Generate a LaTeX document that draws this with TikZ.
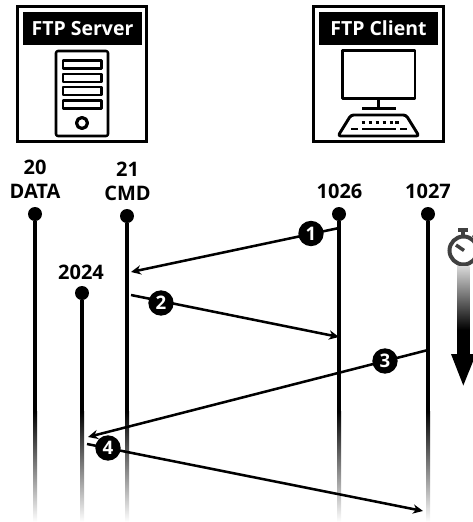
\documentclass[tikz,border=0pt]{standalone}
\usepackage{fontspec}
\setmainfont{Open Sans}[BoldFont={Open Sans Bold}]
\usetikzlibrary{arrows.meta,calc}
\tikzset{
  lbl/.style={font=\fontsize{15}{17}\selectfont\bfseries,inner sep=0pt,text=black},
  band/.style={fill=black,text=white,font=\fontsize{14.6}{17}\selectfont\bfseries,minimum width=89pt,minimum height=24.5pt,inner sep=0pt},
  panel/.style={draw=black,line width=2.1pt,fill=white,minimum width=97pt,minimum height=101.5pt,inner sep=0pt},
  dotn/.style={circle,fill=black,minimum width=10.5pt,minimum height=10.5pt,inner sep=0pt},
  life/.style={line width=3pt,black},
  fade/.style={top color=black,bottom color=white,draw=none},
  msg/.style={line width=1.9pt,black,-{Stealth[length=7.5pt,width=7pt]}},
  numc/.style={circle,fill=black,text=white,minimum size=19pt,inner sep=0pt,font=\fontsize{14}{16}\selectfont\bfseries},
  icon/.style={line width=1.9pt,black,line join=round},
}
\begin{document}
\begin{tikzpicture}[x=0.75pt,y=-0.75pt]
\useasboundingbox (0,0) rectangle (473,522);
\clip (0,0) rectangle (473,522);
% panels
\node[panel] (srv) at (82,74) {};
\node[band] (srvt) at (82.5,28.5) {FTP Server};
\node[panel] (cli) at (378.5,74) {};
\node[band] (clit) at (378.5,28.5) {FTP Client};
% server icon
\draw[icon,rounded corners=1.5pt] (56,51) rectangle (108,136);
\foreach \yy in {60.5,74,87,100.5}
  \draw[icon] (63,\yy) rectangle (101.5,\yy+8);
\draw[icon,line width=2.4pt] (82,123) circle (5.5);
% client icon
\draw[icon,line width=2.1pt] (342.5,50.5) rectangle (415,98.5);
\draw[icon,line width=2.1pt] (378.5,98.5) -- (378.5,108);
\draw[icon,line width=2.6pt] (362,108.5) -- (395.5,108.5);
\draw[icon,line width=2.2pt,rounded corners=2pt] (351,115) -- (406,115) -- (419,136) -- (338,136) -- cycle;
\foreach \xx in {363.5,370.5,377.5,384.5,391.5,397}
  \draw[black,line width=1.9pt] (\xx-2,122.5) -- (\xx+1.5,122.5);
\draw[black,line width=2pt] (351,129) -- (358,129);
\draw[black,line width=2pt] (362,129) -- (396,129);
\draw[black,line width=2pt] (400,129) -- (407,129);
% labels
\node[lbl] (l20) at (35,167) {20};
\node[lbl] (ldata) at (35,191) {DATA};
\node[lbl] (l21) at (127.5,169) {21};
\node[lbl] (lcmd) at (127.5,193) {CMD};
\node[lbl] (l1026) at (339.5,191) {1026};
\node[lbl] (l1027) at (428,191) {1027};
\node[lbl] (l2024) at (81,272) {2024};
% lifelines
\foreach \nm/\xx/\yy in {a/35/214,b/127/216,c/339/214,d/428/214,e/82/293}{
  \node[dotn] (\nm) at (\xx,\yy) {};
  \coordinate (\nm f) at (\xx,412);
  \draw[life] (\nm) -- (\nm f);
  \shade[fade] (\xx-2,411.5) rectangle (\xx+2,522);
}
% messages
\coordinate (m1s) at (339,228);
\coordinate (m1e) at (131,272);
\coordinate (m2s) at (131,295);
\coordinate (m2e) at (339,337);
\coordinate (m3s) at (428,350);
\coordinate (m3e) at (88,437);
\coordinate (m4s) at (87,444);
\coordinate (m4e) at (423,511);
\draw[msg] (m1s) -- (m1e);
\draw[msg] (m2s) -- (m2e);
\draw[msg] (m3s) -- (m3e);
\draw[msg] (m4s) -- (m4e);
\node[numc] (n1) at (311,233.5) {1};
\node[numc] (n2) at (161,303) {2};
\node[numc] (n3) at (385,361) {3};
\node[numc] (n4) at (108,448) {4};
% timer
\definecolor{tmr}{gray}{0.25}
\draw[tmr,line width=3pt] (463.5,250.5) circle (14);
\draw[tmr,line width=2.4pt] (463,231) -- (463,236);
\draw[tmr,line width=3pt] (458,229.5) -- (468,229.5);
\draw[tmr,line width=2.6pt] (464,250.5) -- (456,245);
\draw[tmr,line width=2.4pt] (473,235) -- (476,238);
% time arrow
\shade[top color=white!85!black,bottom color=black] (457,266) rectangle (469.5,330);
\fill[black] (457,329.5) rectangle (469.5,356);
\fill[black] (451,354) -- (476,354) -- (463.3,385.5) -- cycle;
\end{tikzpicture}
\end{document}
